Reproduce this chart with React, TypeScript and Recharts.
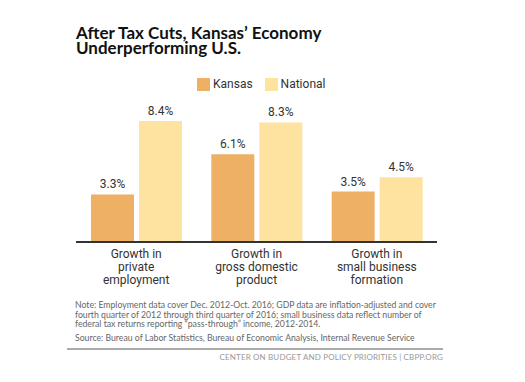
import React from 'react';
import { Bar, BarChart, LabelList, XAxis, YAxis } from 'recharts';

const categories = ['Growth in\nprivate\nemployment', 'Growth in\ngross domestic\nproduct', 'Growth in\nsmall business\nformation'];
const kansas = [3.3, 6.1, 3.5];
const national = [8.4, 8.3, 4.5];

const KANSAS_COLOR = '#EDB064';
const NATIONAL_COLOR = '#FDE2A0';
const NARROW = 'Roboto, "Liberation Sans Narrow", sans-serif';
const SANS = 'Lato, "Open Sans", sans-serif';

const data = categories.map((name, i) => ({ name, kansas: kansas[i], national: national[i] }));

const CategoryTick = (props: any) => {
  const { x, y, payload } = props;
  const lines = String(payload.value).split('\n');
  return (
    <text x={x} y={y} textAnchor="middle" fill="#333" fontSize={12} fontFamily={NARROW}>
      {lines.map((l, i) => (
        <tspan key={i} x={x} y={y + 16 + i * 13}>
          {l}
        </tspan>
      ))}
    </text>
  );
};

const legendItems = [
  ['Kansas', KANSAS_COLOR],
  ['National', NATIONAL_COLOR],
];

export default function App() {
  return (
    <div style={{ position: 'fixed', left: 0, top: 0, width: 525, height: 382, background: '#fff' }}>
      <div
        style={{
          position: 'absolute',
          left: 76,
          top: 25,
          fontFamily: SANS,
          fontWeight: 700,
          fontSize: 17,
          lineHeight: '15px',
          color: '#111',
          whiteSpace: 'nowrap',
        }}
      >
        After Tax Cuts, Kansas’ Economy
        <br />
        Underperforming U.S.
      </div>
      <div
        style={{
          position: 'absolute',
          left: 197,
          top: 78,
          display: 'flex',
          fontFamily: NARROW,
          fontSize: 12,
          lineHeight: '13px',
          color: '#333',
        }}
      >
        {legendItems.map(([label, color], i) => (
          <div key={label} style={{ display: 'flex', alignItems: 'center', marginRight: i === 0 ? 12 : 0 }}>
            <span style={{ width: 13, height: 13, background: color, display: 'inline-block', marginRight: 3 }} />
            <span>{label}</span>
          </div>
        ))}
      </div>
      <BarChart
        width={525}
        height={382}
        data={data}
        margin={{ top: 98, right: 88, left: 76, bottom: 100 }}
        barSize={43}
        barGap={5}
        style={{ position: 'absolute', left: 0, top: 0 }}
      >
        <XAxis
          dataKey="name"
          height={40}
          tickLine={false}
          tickSize={0}
          tickMargin={0}
          axisLine={{ stroke: '#333', strokeWidth: 2 }}
          tick={<CategoryTick />}
          interval={0}
        />
        <YAxis hide domain={[0, 10]} />
        <Bar dataKey="kansas" fill={KANSAS_COLOR} isAnimationActive={false}>
          <LabelList dataKey="kansas" position="top" offset={6} formatter={(v: any) => `${v}%`} fill="#333" fontSize={12} fontFamily={NARROW} />
        </Bar>
        <Bar dataKey="national" fill={NATIONAL_COLOR} isAnimationActive={false}>
          <LabelList dataKey="national" position="top" offset={6} formatter={(v: any) => `${v}%`} fill="#333" fontSize={12} fontFamily={NARROW} />
        </Bar>
      </BarChart>
      <div style={{ position: 'absolute', left: 75, top: 300, width: 368, fontFamily: SANS, fontSize: 8.7, lineHeight: '9.6px', color: '#666' }}>
        Note: Employment data cover Dec. 2012-Oct. 2016; GDP data are inflation-adjusted and cover fourth quarter of 2012 through third quarter of 2016; small business data reflect number of federal tax returns reporting “pass-through” income, 2012-2014.
        <div style={{ marginTop: 4 }}>Source: Bureau of Labor Statistics, Bureau of Economic Analysis, Internal Revenue Service</div>
      </div>
      <div style={{ position: 'absolute', left: 67, top: 348, width: 376, height: 2, background: '#aaa' }} />
      <div
        style={{
          position: 'absolute',
          right: 525 - 443,
          top: 352,
          fontFamily: SANS,
          fontSize: 8,
          letterSpacing: 0.15,
          color: '#999',
          whiteSpace: 'nowrap',
        }}
      >
        CENTER ON BUDGET AND POLICY PRIORITIES | CBPP.ORG
      </div>
    </div>
  );
}
